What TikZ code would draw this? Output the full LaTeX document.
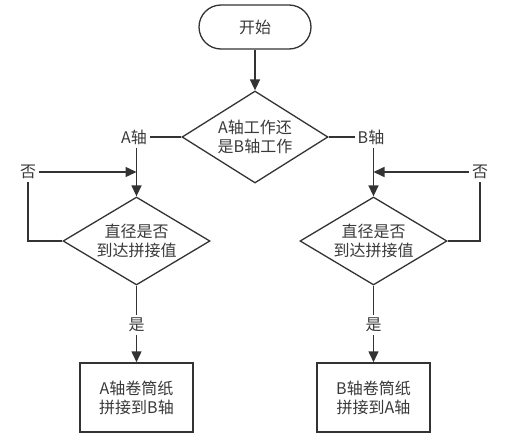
\documentclass[tikz,border=0pt]{standalone}
\usepackage{fontspec}
\newfontfamily\cjk{Noto Sans CJK SC}
\usetikzlibrary{shapes.geometric,arrows.meta}
\definecolor{ln}{HTML}{333333}
\definecolor{txt}{HTML}{3A3A3A}
\begin{document}
\begin{tikzpicture}[x=1pt,y=-1pt,
  every node/.style={font=\cjk\fontsize{16}{19}\selectfont, text=txt},
  line/.style={draw=ln, line width=1.5pt},
  arr/.style={line, -{Triangle[length=11pt,width=10pt]}},
  lab/.style={inner sep=3pt},
  term/.style={draw=ln, line width=1.3pt, rounded corners=22pt, minimum width=112pt, minimum height=44pt, inner sep=0pt},
  dec/.style={draw=ln, line width=1.3pt, diamond, aspect=1.6, inner sep=0pt, align=center},
  proc/.style={draw=ln, line width=1.5pt, minimum width=113pt, minimum height=69pt, inner sep=0pt, align=center}
]
\useasboundingbox[fill=white] (0,0) rectangle (514,439);

\node[term] (start) at (255,27) {开始};
\node[dec, minimum width=146pt, minimum height=92pt] (d0) at (255,137) {A轴工作还\\是B轴工作};

\node[lab] (alab) at (134,137) {A轴};
\node[lab] (blab) at (371,137) {B轴};

\node[dec, minimum width=147pt, minimum height=88pt] (d1) at (136.5,241) {直径是否\\到达拼接值};
\node[dec, minimum width=147pt, minimum height=88pt] (d2) at (373.5,241) {直径是否\\到达拼接值};

\node[lab] (noL) at (28,172) {否};
\node[lab] (noR) at (480,172) {否};

\node[lab] (yesL) at (136.5,325) {是};
\node[lab] (yesR) at (373.5,325) {是};

\node[proc] (boxA) at (136.5,397.5) {A轴卷筒纸\\拼接到B轴};
\node[proc] (boxB) at (373.5,397.5) {B轴卷筒纸\\拼接到A轴};

\coordinate (jl) at (136.5,172);
\coordinate (jr) at (373.5,172);

\draw[arr] (start.south) -- (d0.north);
\draw[line] (d0.west) -- (alab.east);
\draw[line] (d0.east) -- (blab.west);
\draw[arr] (alab.south -| d1.north) -- (d1.north);
\draw[arr] (blab.south -| d2.north) -- (d2.north);
\draw[arr] (noL.east) -- (jl);
\draw[arr] (noR.west) -- (jr);
\draw[line] (d1.west) -| (noL.south);
\draw[line] (d2.east) -| (noR.south);
\draw[line] (d1.south) -- (yesL.north);
\draw[line] (d2.south) -- (yesR.north);
\draw[arr] (yesL.south) -- (boxA.north);
\draw[arr] (yesR.south) -- (boxB.north);
\end{tikzpicture}
\end{document}
